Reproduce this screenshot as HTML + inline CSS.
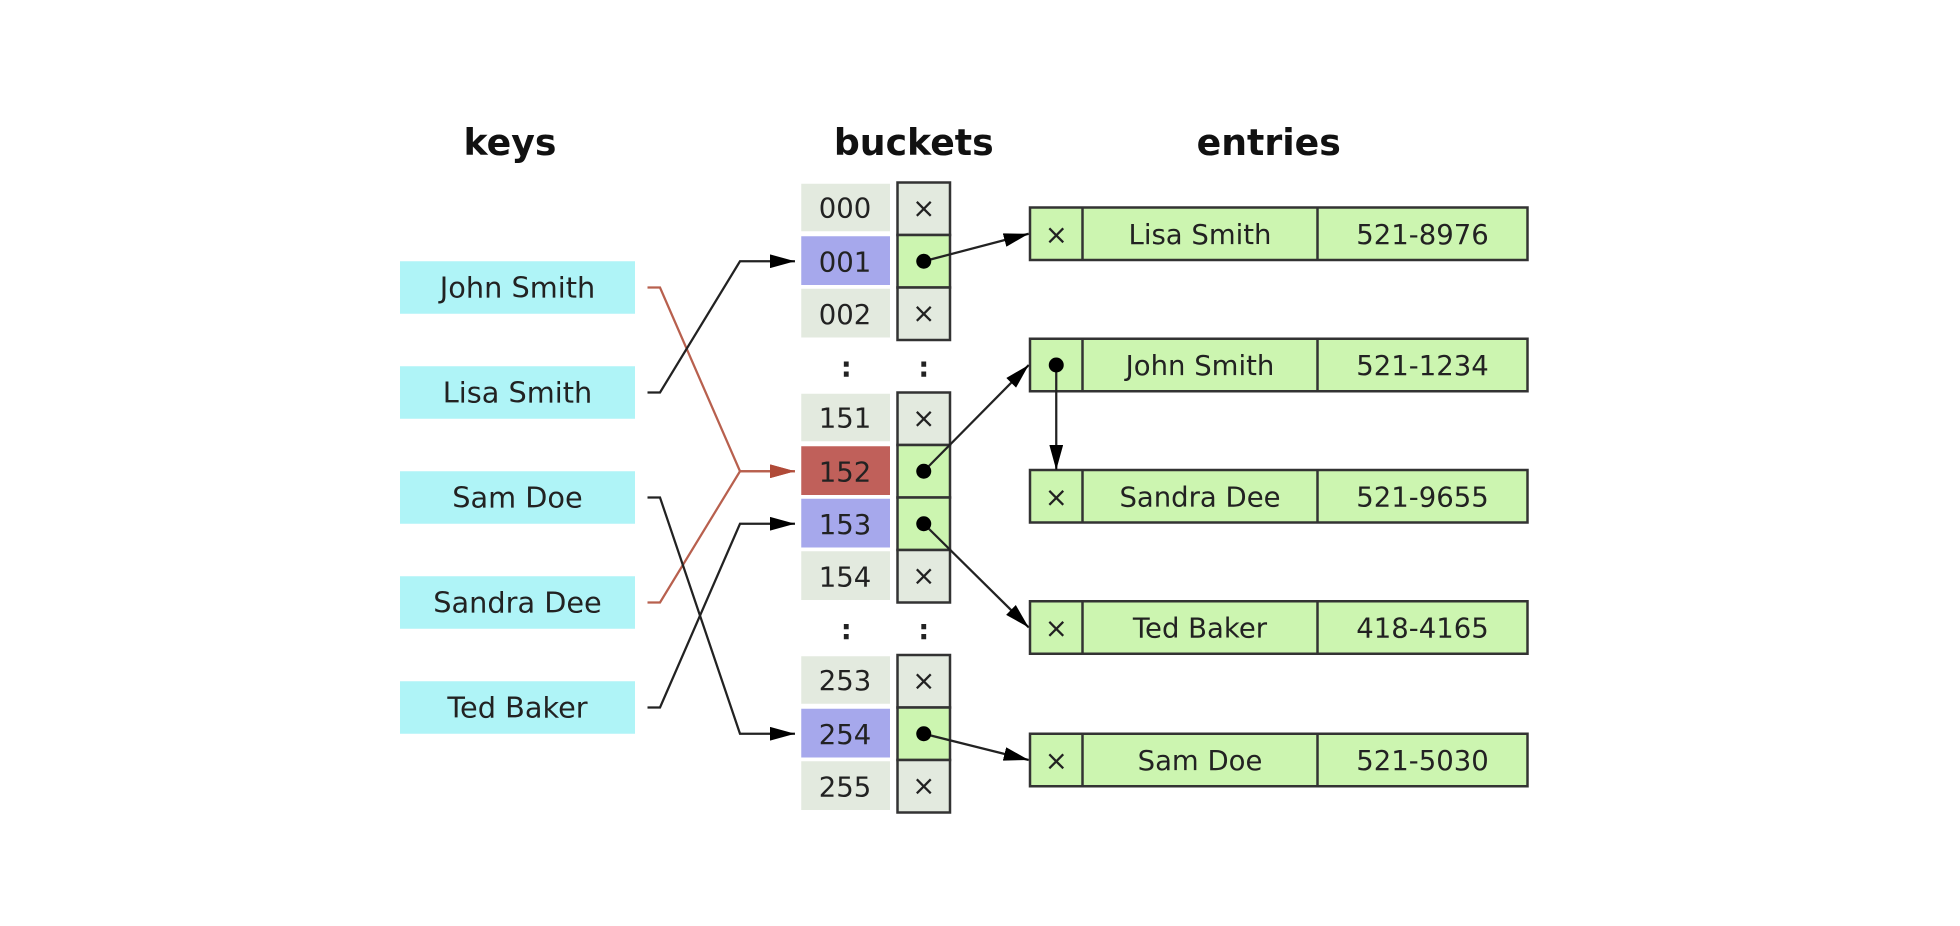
<!DOCTYPE html>
<html><head><meta charset="utf-8"><style>html,body{margin:0;padding:0;background:#fff}svg{display:block}</style></head>
<body>
<svg width="1960" height="926" viewBox="0 0 1568 740.8" xmlns="http://www.w3.org/2000/svg" font-family="DejaVu Sans, Liberation Sans, sans-serif">
<defs>
<marker id="a" viewBox="0 0 20 11" refX="20" refY="5.5" markerWidth="20" markerHeight="11" markerUnits="userSpaceOnUse" orient="auto"><path d="M0,0L20,5.5L0,11z" fill="#000"/></marker>
<marker id="r" viewBox="0 0 20 11" refX="20" refY="5.5" markerWidth="20" markerHeight="11" markerUnits="userSpaceOnUse" orient="auto"><path d="M0,0L20,5.5L0,11z" fill="#b04a38"/></marker>
</defs>
<rect width="1568" height="741" fill="#fff"/>
<g font-weight="bold" font-size="29" text-anchor="middle" fill="#111">
<text x="408" y="124">keys</text><text x="731" y="124">buckets</text><text x="1015" y="124">entries</text></g>
<g font-size="23" text-anchor="middle" fill="#222">
<rect x="320" y="209" width="188" height="42" fill="#aff4f7"/><text x="414" y="238">John Smith</text>
<rect x="320" y="293" width="188" height="42" fill="#aff4f7"/><text x="414" y="322">Lisa Smith</text>
<rect x="320" y="377" width="188" height="42" fill="#aff4f7"/><text x="414" y="406">Sam Doe</text>
<rect x="320" y="461" width="188" height="42" fill="#aff4f7"/><text x="414" y="490">Sandra Dee</text>
<rect x="320" y="545" width="188" height="42" fill="#aff4f7"/><text x="414" y="574">Ted Baker</text>
</g>
<g font-size="22" text-anchor="middle" fill="#222" stroke-width="2">
<rect x="641" y="147" width="71" height="38" fill="#e3eadf"/><text x="676" y="174">000</text>
<rect x="641" y="189" width="71" height="39" fill="#a6a8ec"/><text x="676" y="217">001</text>
<rect x="641" y="231" width="71" height="39" fill="#e3eadf"/><text x="676" y="259">002</text>
<rect x="718" y="146" width="42" height="42" fill="#e3eadf" stroke="#333"/><text x="739" y="174">×</text>
<rect x="718" y="188" width="42" height="42" fill="#ccf5b0" stroke="#333"/>
<rect x="718" y="230" width="42" height="42" fill="#e3eadf" stroke="#333"/><text x="739" y="258">×</text>
<text x="677" y="301" font-weight="bold">:</text><text x="739" y="301" font-weight="bold">:</text>
<rect x="641" y="315" width="71" height="38" fill="#e3eadf"/><text x="676" y="342">151</text>
<rect x="641" y="357" width="71" height="39" fill="#c0605a"/><text x="676" y="385">152</text>
<rect x="641" y="399" width="71" height="39" fill="#a6a8ec"/><text x="676" y="427">153</text>
<rect x="641" y="441" width="71" height="39" fill="#e3eadf"/><text x="676" y="469">154</text>
<rect x="718" y="314" width="42" height="42" fill="#e3eadf" stroke="#333"/><text x="739" y="342">×</text>
<rect x="718" y="356" width="42" height="42" fill="#ccf5b0" stroke="#333"/>
<rect x="718" y="398" width="42" height="42" fill="#ccf5b0" stroke="#333"/>
<rect x="718" y="440" width="42" height="42" fill="#e3eadf" stroke="#333"/><text x="739" y="468">×</text>
<text x="677" y="511" font-weight="bold">:</text><text x="739" y="511" font-weight="bold">:</text>
<rect x="641" y="525" width="71" height="38" fill="#e3eadf"/><text x="676" y="552">253</text>
<rect x="641" y="567" width="71" height="39" fill="#a6a8ec"/><text x="676" y="595">254</text>
<rect x="641" y="609" width="71" height="39" fill="#e3eadf"/><text x="676" y="637">255</text>
<rect x="718" y="524" width="42" height="42" fill="#e3eadf" stroke="#333"/><text x="739" y="552">×</text>
<rect x="718" y="566" width="42" height="42" fill="#ccf5b0" stroke="#333"/>
<rect x="718" y="608" width="42" height="42" fill="#e3eadf" stroke="#333"/><text x="739" y="636">×</text>
</g>
<g font-size="22" text-anchor="middle" fill="#222" stroke-width="2">
<g transform="translate(0,166)"><rect x="824" y="0" width="398" height="42" fill="#ccf5b0" stroke="#333"/><line x1="866" y1="0" x2="866" y2="42" stroke="#333"/><line x1="1054" y1="0" x2="1054" y2="42" stroke="#333"/><text x="845" y="29">×</text><text x="960" y="29">Lisa Smith</text><text x="1138" y="29">521-8976</text></g>
<g transform="translate(0,271)"><rect x="824" y="0" width="398" height="42" fill="#ccf5b0" stroke="#333"/><line x1="866" y1="0" x2="866" y2="42" stroke="#333"/><line x1="1054" y1="0" x2="1054" y2="42" stroke="#333"/><text x="960" y="29">John Smith</text><text x="1138" y="29">521-1234</text></g>
<g transform="translate(0,376)"><rect x="824" y="0" width="398" height="42" fill="#ccf5b0" stroke="#333"/><line x1="866" y1="0" x2="866" y2="42" stroke="#333"/><line x1="1054" y1="0" x2="1054" y2="42" stroke="#333"/><text x="845" y="29">×</text><text x="960" y="29">Sandra Dee</text><text x="1138" y="29">521-9655</text></g>
<g transform="translate(0,481)"><rect x="824" y="0" width="398" height="42" fill="#ccf5b0" stroke="#333"/><line x1="866" y1="0" x2="866" y2="42" stroke="#333"/><line x1="1054" y1="0" x2="1054" y2="42" stroke="#333"/><text x="845" y="29">×</text><text x="960" y="29">Ted Baker</text><text x="1138" y="29">418-4165</text></g>
<g transform="translate(0,587)"><rect x="824" y="0" width="398" height="42" fill="#ccf5b0" stroke="#333"/><line x1="866" y1="0" x2="866" y2="42" stroke="#333"/><line x1="1054" y1="0" x2="1054" y2="42" stroke="#333"/><text x="845" y="29">×</text><text x="960" y="29">Sam Doe</text><text x="1138" y="29">521-5030</text></g>
</g>
<g fill="none" stroke-width="1.8">
<polyline points="518,230 528,230 592,377 636,377" stroke="#b8604e" marker-end="url(#r)"/>
<polyline points="518,482 528,482 592,377 636,377" stroke="#b8604e" marker-end="url(#r)"/>
<polyline points="518,314 528,314 592,209 636,209" stroke="#222" marker-end="url(#a)"/>
<polyline points="518,398 528,398 592,587 636,587" stroke="#222" marker-end="url(#a)"/>
<polyline points="518,566 528,566 592,419 636,419" stroke="#222" marker-end="url(#a)"/>
<line x1="739" y1="209" x2="823" y2="187" stroke="#222" marker-end="url(#a)"/>
<line x1="739" y1="377" x2="823" y2="292" stroke="#222" marker-end="url(#a)"/>
<line x1="739" y1="419" x2="823" y2="502" stroke="#222" marker-end="url(#a)"/>
<line x1="739" y1="587" x2="823" y2="608" stroke="#222" marker-end="url(#a)"/>
<line x1="845" y1="292" x2="845" y2="376" stroke="#222" marker-end="url(#a)"/>
</g>
<g fill="#000"><circle cx="739" cy="209" r="6"/><circle cx="739" cy="377" r="6"/><circle cx="739" cy="419" r="6"/><circle cx="739" cy="587" r="6"/><circle cx="845" cy="292" r="6"/></g>
</svg>
</body></html>
